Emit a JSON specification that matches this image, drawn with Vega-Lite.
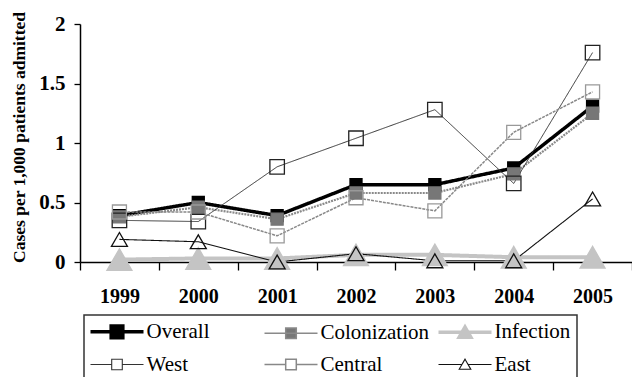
{
  "$schema": "https://vega.github.io/schema/vega-lite/v6.json",
  "width": 552,
  "height": 238,
  "autosize": {"type": "none"},
  "padding": {"left": 80, "top": 24, "right": 0, "bottom": 115},
  "background": "white",
  "config": {"view": {"stroke": null}, "font": "Liberation Serif"},
  "data": {
    "values": [
      {"year": "1999", "series": "Overall", "value": 0.39},
      {"year": "2000", "series": "Overall", "value": 0.50},
      {"year": "2001", "series": "Overall", "value": 0.39},
      {"year": "2002", "series": "Overall", "value": 0.65},
      {"year": "2003", "series": "Overall", "value": 0.65},
      {"year": "2004", "series": "Overall", "value": 0.79},
      {"year": "2005", "series": "Overall", "value": 1.31},
      {"year": "1999", "series": "Colonization", "value": 0.38},
      {"year": "2000", "series": "Colonization", "value": 0.46},
      {"year": "2001", "series": "Colonization", "value": 0.36},
      {"year": "2002", "series": "Colonization", "value": 0.58},
      {"year": "2003", "series": "Colonization", "value": 0.58},
      {"year": "2004", "series": "Colonization", "value": 0.74},
      {"year": "2005", "series": "Colonization", "value": 1.25},
      {"year": "1999", "series": "Infection", "value": 0.02},
      {"year": "2000", "series": "Infection", "value": 0.03},
      {"year": "2001", "series": "Infection", "value": 0.03},
      {"year": "2002", "series": "Infection", "value": 0.06},
      {"year": "2003", "series": "Infection", "value": 0.06},
      {"year": "2004", "series": "Infection", "value": 0.04},
      {"year": "2005", "series": "Infection", "value": 0.04},
      {"year": "1999", "series": "West", "value": 0.35},
      {"year": "2000", "series": "West", "value": 0.34},
      {"year": "2001", "series": "West", "value": 0.80},
      {"year": "2002", "series": "West", "value": 1.04},
      {"year": "2003", "series": "West", "value": 1.28},
      {"year": "2004", "series": "West", "value": 0.66},
      {"year": "2005", "series": "West", "value": 1.76},
      {"year": "1999", "series": "Central", "value": 0.42},
      {"year": "2000", "series": "Central", "value": 0.42},
      {"year": "2001", "series": "Central", "value": 0.22},
      {"year": "2002", "series": "Central", "value": 0.54},
      {"year": "2003", "series": "Central", "value": 0.43},
      {"year": "2004", "series": "Central", "value": 1.09},
      {"year": "2005", "series": "Central", "value": 1.43},
      {"year": "1999", "series": "East", "value": 0.19},
      {"year": "2000", "series": "East", "value": 0.17},
      {"year": "2001", "series": "East", "value": 0.00},
      {"year": "2002", "series": "East", "value": 0.07},
      {"year": "2003", "series": "East", "value": 0.01},
      {"year": "2004", "series": "East", "value": 0.01},
      {"year": "2005", "series": "East", "value": 0.53}
    ]
  },
  "encoding": {
    "x": {
      "field": "year",
      "type": "ordinal",
      "scale": {"type": "band", "paddingInner": 0, "paddingOuter": 0},
      "axis": {
        "title": null,
        "labelAngle": 0,
        "labelFont": "Liberation Serif",
        "labelFontSize": 20,
        "labelFontWeight": "bold",
        "labelColor": "black",
        "labelPadding": 16,
        "tickBand": "extent",
        "tickSize": 8,
        "tickColor": "black",
        "tickWidth": 1.3,
        "domainColor": "black",
        "domainWidth": 1.5,
        "grid": false
      }
    },
    "y": {
      "field": "value",
      "type": "quantitative",
      "scale": {"domain": [0, 2], "nice": false},
      "axis": {
        "title": "Cases per 1,000 patients admitted",
        "titleFont": "Liberation Serif",
        "titleFontSize": 17.5,
        "titleFontWeight": "bold",
        "titleColor": "black",
        "titlePadding": 10,
        "titleY": 113,
        "values": [0, 0.5, 1, 1.5, 2],
        "format": "~g",
        "labelFont": "Liberation Serif",
        "labelFontSize": 21,
        "labelFontWeight": "bold",
        "labelColor": "black",
        "labelPadding": 9,
        "tickSize": 6,
        "tickColor": "black",
        "tickWidth": 1.3,
        "domainColor": "black",
        "domainWidth": 1.5,
        "grid": false
      }
    }
  },
  "layer": [
    {
      "mark": {"type": "line"},
      "encoding": {
        "color": {
          "field": "series",
          "type": "nominal",
          "scale": {
            "domain": ["Overall", "Colonization", "Infection", "West", "Central", "East"],
            "range": ["#000000", "#8a8a8a", "#c4c4c4", "#333333", "#888888", "#111111"]
          },
          "legend": {
            "orient": "none",
            "legendX": 4,
            "legendY": 291,
            "columns": 3,
            "direction": "horizontal",
            "title": null,
            "labelFont": "Liberation Serif",
            "labelFontSize": 21,
            "labelColor": "black",
            "labelOffset": 19,
            "labelLimit": 0,
            "symbolSize": 2809,
            "symbolOffset": 16.5,
            "padding": 6,
            "columnPadding": 2,
            "rowPadding": 8,
            "gridAlign": "all",
            "strokeColor": "#333333",
            "encode": {
              "legend": {"update": {"strokeWidth": {"value": 1.5}}},
              "symbols": {
                "update": {
                  "shape": {"signal": "datum.value === 'Overall' ? 'M-1,0H1M-0.22,-0.22H0.22V0.22H-0.22Z' : datum.value === 'Colonization' ? 'M-1,0H1M-0.2,-0.2H0.2V0.2H-0.2Z' : datum.value === 'Infection' ? 'M-1,0H1M0,-0.2L0.22,0.18H-0.22Z' : datum.value === 'East' ? 'M-1,0H-0.11M0.11,0H1M0,-0.2L0.22,0.18H-0.22Z' : 'M-1,0H-0.2M0.2,0H1M-0.2,-0.2H0.2V0.2H-0.2Z'"},
                  "fill": {"signal": "datum.value === 'Overall' ? '#000000' : datum.value === 'Colonization' ? '#777777' : datum.value === 'Infection' ? '#c4c4c4' : 'white'"},
                  "strokeWidth": {"signal": "datum.value === 'Overall' ? 3.5 : datum.value === 'Infection' ? 3.5 : (datum.value === 'Colonization' || datum.value === 'Central') ? 1.5 : 1.1"},
                  "strokeDash": {"value": [1, 0]},
                  "opacity": {"value": 1},
                  "fillOpacity": {"value": 1}
                }
              }
            }
          }
        },
        "strokeWidth": {
          "field": "series",
          "type": "nominal",
          "scale": {
            "type": "ordinal",
            "domain": ["Central", "Colonization", "East", "Infection", "Overall", "West"],
            "range": [1.5, 2.2, 1.1, 4, 3.5, 1]
          },
          "legend": null
        },
        "strokeDash": {
          "field": "series",
          "type": "nominal",
          "scale": {
            "domain": ["Central", "Colonization", "East", "Infection", "Overall", "West"],
            "range": [[3, 1], [2, 1], [1, 0], [1, 0], [1, 0], [1, 0]]
          },
          "legend": null
        }
      }
    },
    {
      "mark": {"type": "point", "filled": true, "opacity": 1, "strokeWidth": 1.3},
      "encoding": {
        "shape": {
          "field": "series",
          "type": "nominal",
          "scale": {
            "domain": ["Central", "Colonization", "East", "Infection", "Overall", "West"],
            "range": ["square", "square", "triangle-up", "triangle-up", "square", "square"]
          },
          "legend": null
        },
        "size": {
          "field": "series",
          "type": "nominal",
          "scale": {
            "type": "ordinal",
            "domain": ["Central", "Colonization", "East", "Infection", "Overall", "West"],
            "range": [196, 144, 256, 625, 144, 210]
          },
          "legend": null
        },
        "fill": {
          "field": "series",
          "type": "nominal",
          "scale": {
            "domain": ["Central", "Colonization", "East", "Infection", "Overall", "West"],
            "range": ["transparent", "#777777", "transparent", "#c4c4c4", "#000000", "transparent"]
          },
          "legend": null
        },
        "stroke": {
          "field": "series",
          "type": "nominal",
          "scale": {
            "domain": ["Central", "Colonization", "East", "Infection", "Overall", "West"],
            "range": ["#999999", "#777777", "#111111", "#c4c4c4", "#000000", "#222222"]
          },
          "legend": null
        }
      }
    }
  ]
}
